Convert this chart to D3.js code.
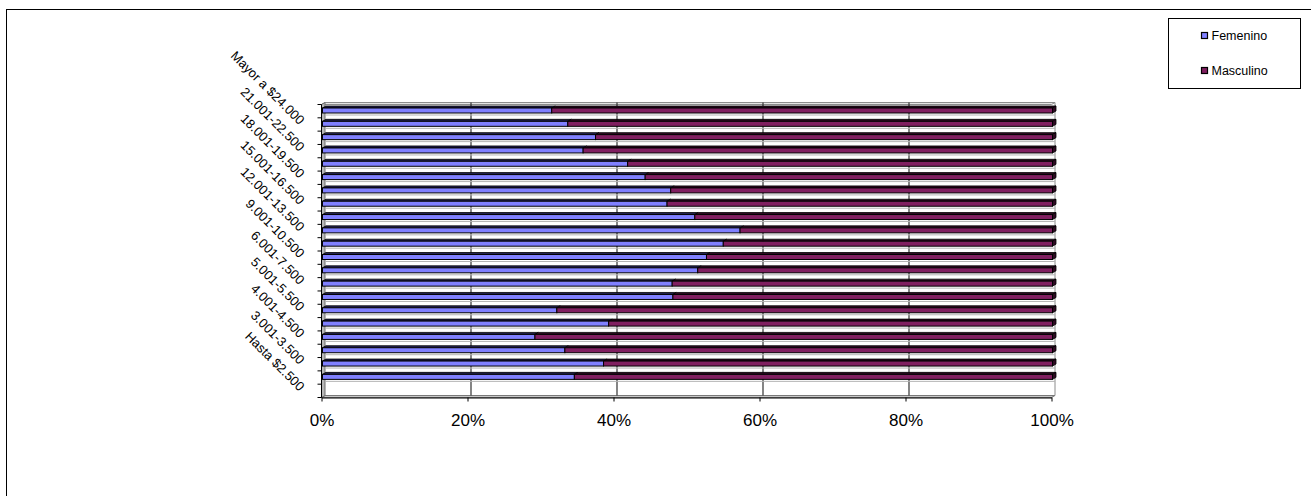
<!DOCTYPE html>
<html>
<head>
<meta charset="utf-8">
<script src="https://cdn.jsdelivr.net/npm/d3@7/dist/d3.min.js"></script>
<style>
    body { margin: 0; background: #fff; }
    text { font-family: "Liberation Sans", Arial, sans-serif; fill: #000; }
</style>
</head>
<body>
<div class="canvas"></div>
<script>
// categories from bottom to top (as in the source chart)
const categories = [
    'Hasta $2.500', '2.501-3.000', '3.001-3.500', '3.501-4.000', '4.001-4.500',
    '4.501-5.000', '5.001-5.500', '5.501-6.000', '6.001-7.500', '7.501-9.000',
    '9.001-10.500', '10.501-12.000', '12.001-13.500', '13.501-15.000', '15.001-16.500',
    '16.501-18.000', '18.001-19.500', '19.501-21.000', '21.001-22.500', '22.501-24.000',
    'Mayor a $24.000', 'Sin dato'
];
const femenino = [0, 34.5, 38.5, 33.2, 29.1, 39.2, 32.1, 48.0, 47.9, 51.4, 52.6,
    54.9, 57.2, 51.0, 47.2, 47.7, 44.2, 41.8, 35.7, 37.4, 33.6, 31.4];
const masculino = [0, 65.5, 61.5, 66.8, 70.9, 60.8, 67.9, 52.0, 52.1, 48.6, 47.4,
    45.1, 42.8, 49.0, 52.8, 52.3, 55.8, 58.2, 64.3, 62.6, 66.4, 68.6];
const seriesNames = ['Femenino', 'Masculino'];
const xTicks = [0, 0.2, 0.4, 0.6, 0.8, 1];
const xTickLabels = ['0%', '20%', '40%', '60%', '80%', '100%'];

const dims = { width: 1311, height: 496 };
const depth = { dx: 3.5, dy: -2 };
const colours = {
    Femenino: { front: '#8080ff', top: '#222250' },
    Masculino: { front: '#801f60', top: '#2e0a22' }
};

const svg = d3.select('.canvas')
    .append('svg')
    .attr('width', dims.width)
    .attr('height', dims.height)
;

// chart frame (only top and left edges fall inside the window)
svg.append('rect')
    .attr('x', 6.5).attr('y', 9.5)
    .attr('width', dims.width).attr('height', dims.height)
    .attr('fill', 'none').attr('stroke', '#000')
;

const table = categories.map((c, i) => ({ cat: c, Femenino: femenino[i], Masculino: masculino[i] }));

// 100% stack; empty rows stay empty
const stack = d3.stack()
    .keys(seriesNames)
    .offset(d3.stackOffsetExpand)
;
const stacked = stack(table);

const x = d3.scaleLinear().domain([0, 1]).range([321.5, 1051.5]);
const y = d3.scaleBand().domain(categories).range([397.5, 104.5]);
const bw = y.bandwidth();

const x0 = x(0), x1 = x(1), yTop = 104.5, yBot = 397.5;
const { dx, dy } = depth;

// walls
const walls = svg.append('g');
walls.append('polygon')
    .attr('points', [[x0, yTop], [x0 + dx, yTop + dy], [x1 + dx, yTop + dy], [x1, yTop]].join(' '))
    .attr('fill', '#e6e6e6').attr('stroke', '#8c8c8c')
;
walls.append('polygon')
    .attr('points', [[x0, yBot], [x0 + dx, yBot + dy], [x1 + dx, yBot + dy], [x1, yBot]].join(' '))
    .attr('fill', '#c8c8c8').attr('stroke', '#7a7a7a')
;
walls.append('polygon')
    .attr('points', [[x0, yTop], [x0 + dx, yTop + dy], [x0 + dx, yBot + dy], [x0, yBot]].join(' '))
    .attr('fill', '#b8b8b8').attr('stroke', '#6e6e6e')
;
walls.append('line')
    .attr('x1', x1 + dx).attr('x2', x1 + dx)
    .attr('y1', yTop + dy).attr('y2', yBot + dy)
    .attr('stroke', '#8c8c8c')
;

// back gridlines
svg.append('g')
    .selectAll('line')
    .data(xTicks.slice(1, -1))
    .enter()
    .append('line')
        .attr('x1', d => x(d) + dx).attr('x2', d => x(d) + dx)
        .attr('y1', yTop + dy).attr('y2', yBot + dy)
        .attr('stroke', '#333').attr('stroke-width', 1.2)
;

// light separators between rows
svg.append('g')
    .selectAll('line')
    .data(categories.slice(1))
    .enter()
    .append('line')
        .attr('x1', x0 + dx).attr('x2', x1 + dx)
        .attr('y1', d => y(d) + 10.5).attr('y2', d => y(d) + 10.5)
        .attr('stroke', '#b4b4b4').attr('stroke-width', 1)
;

// bars
const graph = svg.append('g');
stacked.forEach((s, si) => {
    const col = colours[s.key];
    const rows = s.map((d, i) => ({ d, cat: categories[i] })).filter(r => r.d[1] > r.d[0]);
    const g = graph.append('g');

    g.selectAll('polygon.top')
        .data(rows)
        .enter()
        .append('polygon')
            .attr('class', 'top')
            .attr('points', r => {
                const a = x(r.d[0]) + 1, b = x(r.d[1]) + 1, t = y(r.cat) + 3.5;
                return [[a, t], [a + dx, t + dy], [b + dx, t + dy], [b, t]].join(' ');
            })
            .attr('fill', col.top).attr('stroke', '#000').attr('stroke-width', 0.8)
    ;

    if (si === stacked.length - 1) {
        g.selectAll('polygon.side')
            .data(rows)
            .enter()
            .append('polygon')
                .attr('class', 'side')
                .attr('points', r => {
                    const b = x(r.d[1]) + 1, t = y(r.cat) + 3.5;
                    return [[b, t], [b + dx, t + dy], [b + dx, t + dy + 5], [b, t + 5]].join(' ');
                })
                .attr('fill', col.top).attr('stroke', '#000').attr('stroke-width', 0.8)
        ;
    }

    g.selectAll('rect')
        .data(rows)
        .enter()
        .append('rect')
            .attr('x', r => x(r.d[0]) + 1)
            .attr('y', r => y(r.cat) + 3.5)
            .attr('width', r => x(r.d[1]) - x(r.d[0]))
            .attr('height', 5)
            .attr('fill', col.front)
            .attr('stroke', '#000').attr('stroke-width', 1)
    ;
});

// front axes
const axisY = svg.append('g');
axisY.append('line')
    .attr('x1', x0).attr('x2', x0).attr('y1', yTop).attr('y2', yBot)
    .attr('stroke', '#000')
;
axisY.selectAll('line.tick')
    .data(categories.map(c => y(c)).concat([yBot]))
    .enter()
    .append('line')
        .attr('class', 'tick')
        .attr('x1', x0 - 4).attr('x2', x0)
        .attr('y1', d => d).attr('y2', d => d)
        .attr('stroke', '#000')
;

const xAxis = d3.axisBottom(x)
    .tickValues(xTicks)
    .tickFormat((d, i) => xTickLabels[i])
    .tickSize(4)
    .tickSizeOuter(0)
;
svg.append('g')
    .attr('transform', `translate(0, ${yBot})`)
    .call(xAxis)
    .call(g => g.select('.domain').attr('stroke', '#000'))
    .call(g => g.selectAll('.tick text')
        .attr('font-size', 17)
        .attr('font-family', '"Liberation Sans", Arial, sans-serif')
        .attr('fill', '#000')
        .attr('dy', 0)
        .attr('y', 28))
;

// rotated category labels, every second one
svg.append('g')
    .selectAll('text')
    .data(categories.filter((c, i) => i % 2 === 0))
    .enter()
    .append('text')
        .attr('transform', d => `translate(299, ${y(d) + bw / 2 + 1}) rotate(45)`)
        .attr('text-anchor', 'end')
        .attr('font-size', 13)
        .text(d => d)
;

// legend
const legend = svg.append('g');
legend.append('rect')
    .attr('x', 1168.5).attr('y', 18.5)
    .attr('width', 132).attr('height', 70)
    .attr('fill', '#fff').attr('stroke', '#000')
;
const items = legend.selectAll('g.item')
    .data(seriesNames)
    .enter()
    .append('g')
        .attr('class', 'item')
        .attr('transform', (d, i) => `translate(1201.5, ${32.5 + i * 35})`)
;
items.append('rect')
    .attr('width', 6).attr('height', 6)
    .attr('fill', d => colours[d].front)
    .attr('stroke', '#000').attr('stroke-width', 1.2)
;
items.append('text')
    .attr('x', 10).attr('y', 7.5)
    .attr('font-size', 12.5)
    .text(d => d)
;
</script>
</body>
</html>
